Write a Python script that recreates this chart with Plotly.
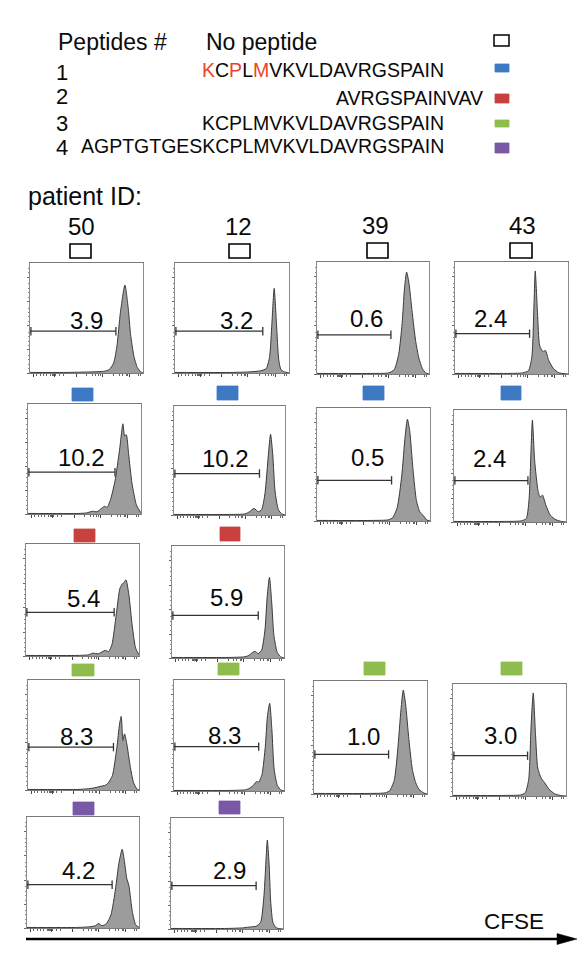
import plotly.graph_objects as go

W, H = 587, 957

# ------------------------------------------------------------------ data
PEPTIDE_NUMS = ["1", "2", "3", "4"]
PEPTIDE_SEQS = [
    "KCPLMVKVLDAVRGSPAIN",
    "AVRGSPAINVAV",
    "KCPLMVKVLDAVRGSPAIN",
    "AGPTGTGESKCPLMVKVLDAVRGSPAIN",
]
PEP1_RED_IDX = [0, 2, 4]          # K, P, M highlighted in peptide 1
PATIENTS = ["50", "12", "39", "43"]
CONDITIONS = ["No peptide", "1", "2", "3", "4"]

# % of divided cells (CFSE-low gate); None = not tested
PCT_NONE = [3.9, 3.2, 0.6, 2.4]
PCT_PEP1 = [10.2, 10.2, 0.5, 2.4]
PCT_PEP2 = [5.4, 5.9, None, None]
PCT_PEP3 = [8.3, 8.3, 1.0, 3.0]
PCT_PEP4 = [4.2, 2.9, None, None]

# gate end (relative CFSE) and gate level, per condition row
GATE_END_NONE = [0.76, 0.77, 0.66, 0.66]
GATE_END_PEP1 = [0.77, 0.77, 0.66, 0.66]
GATE_END_PEP2 = [0.78, 0.77, None, None]
GATE_END_PEP3 = [0.77, 0.77, 0.66, 0.66]
GATE_END_PEP4 = [0.76, 0.76, None, None]
GATE_LVL_NONE = [0.38, 0.38, 0.35, 0.36]
GATE_LVL_PEP1 = [0.38, 0.38, 0.36, 0.37]
GATE_LVL_PEP2 = [0.39, 0.38, None, None]
GATE_LVL_PEP3 = [0.39, 0.40, 0.35, 0.36]
GATE_LVL_PEP4 = [0.39, 0.39, None, None]

# CFSE histograms (relative CFSE, relative count)
P50_NONE_X = [0, 0.30, 0.55, 0.65, 0.70, 0.74, 0.77, 0.80, 0.84, 0.87, 0.89, 0.92, 0.95, 0.98, 1.0]
P50_NONE_Y = [0.005, 0.005, 0.01, 0.015, 0.03, 0.09, 0.25, 0.55, 0.80, 0.58, 0.35, 0.15, 0.05, 0.01, 0.0]
P12_NONE_X = [0, 0.5, 0.65, 0.75, 0.80, 0.83, 0.85, 0.87, 0.89, 0.91, 0.93, 0.96, 1.0]
P12_NONE_Y = [0.005, 0.005, 0.01, 0.02, 0.04, 0.15, 0.45, 0.77, 0.45, 0.12, 0.03, 0.01, 0.0]
P39_NONE_X = [0, 0.5, 0.64, 0.69, 0.73, 0.76, 0.78, 0.80, 0.82, 0.85, 0.88, 0.91, 0.94, 0.97, 1.0]
P39_NONE_Y = [0.005, 0.005, 0.01, 0.04, 0.18, 0.45, 0.75, 0.91, 0.82, 0.55, 0.30, 0.14, 0.05, 0.01, 0.0]
P43_NONE_X = [0, 0.45, 0.60, 0.65, 0.68, 0.70, 0.71, 0.73, 0.75, 0.78, 0.80, 0.83, 0.87, 0.92, 1.0]
P43_NONE_Y = [0.005, 0.005, 0.01, 0.03, 0.15, 0.65, 0.92, 0.55, 0.25, 0.20, 0.21, 0.12, 0.05, 0.01, 0.0]

P50_PEP1_X = [0, 0.45, 0.52, 0.57, 0.61, 0.65, 0.68, 0.70, 0.73, 0.77, 0.81, 0.84, 0.855, 0.87, 0.89, 0.92, 0.96, 1.0]
P50_PEP1_Y = [0.005, 0.005, 0.01, 0.025, 0.02, 0.05, 0.07, 0.06, 0.13, 0.30, 0.58, 0.82, 0.71, 0.72, 0.55, 0.28, 0.08, 0.01]
P12_PEP1_X = [0, 0.5, 0.64, 0.68, 0.72, 0.76, 0.79, 0.82, 0.85, 0.87, 0.89, 0.91, 0.94, 0.97, 1.0]
P12_PEP1_Y = [0.005, 0.005, 0.01, 0.03, 0.06, 0.03, 0.05, 0.20, 0.55, 0.74, 0.55, 0.22, 0.05, 0.01, 0.0]
P39_PEP1_X = [0, 0.5, 0.63, 0.67, 0.71, 0.75, 0.78, 0.80, 0.82, 0.85, 0.88, 0.91, 0.94, 0.97, 1.0]
P39_PEP1_Y = [0.005, 0.005, 0.01, 0.03, 0.12, 0.40, 0.75, 0.90, 0.80, 0.45, 0.18, 0.08, 0.05, 0.01, 0.0]
P43_PEP1_X = [0, 0.45, 0.60, 0.645, 0.67, 0.69, 0.70, 0.72, 0.75, 0.77, 0.79, 0.82, 0.86, 0.91, 0.96, 1.0]
P43_PEP1_Y = [0.005, 0.005, 0.01, 0.03, 0.20, 0.70, 0.91, 0.55, 0.28, 0.22, 0.24, 0.15, 0.06, 0.02, 0.005, 0.0]

P50_PEP2_X = [0, 0.45, 0.55, 0.59, 0.64, 0.70, 0.73, 0.76, 0.80, 0.83, 0.85, 0.87, 0.885, 0.91, 0.94, 0.97, 1.0]
P50_PEP2_Y = [0.005, 0.005, 0.01, 0.025, 0.02, 0.05, 0.04, 0.10, 0.38, 0.60, 0.64, 0.66, 0.68, 0.55, 0.27, 0.07, 0.01]
P12_PEP2_X = [0, 0.5, 0.64, 0.68, 0.72, 0.74, 0.77, 0.80, 0.83, 0.85, 0.87, 0.89, 0.91, 0.94, 0.97, 1.0]
P12_PEP2_Y = [0.005, 0.005, 0.01, 0.02, 0.05, 0.06, 0.04, 0.07, 0.25, 0.55, 0.72, 0.50, 0.20, 0.05, 0.01, 0.0]

P50_PEP3_X = [0, 0.45, 0.53, 0.60, 0.66, 0.69, 0.72, 0.76, 0.80, 0.825, 0.84, 0.855, 0.87, 0.89, 0.92, 0.95, 0.98, 1.0]
P50_PEP3_Y = [0.005, 0.005, 0.01, 0.02, 0.035, 0.04, 0.06, 0.13, 0.38, 0.60, 0.67, 0.45, 0.51, 0.42, 0.22, 0.07, 0.01, 0.0]
P12_PEP3_X = [0, 0.5, 0.64, 0.68, 0.72, 0.75, 0.77, 0.80, 0.83, 0.85, 0.87, 0.89, 0.91, 0.94, 0.97, 1.0]
P12_PEP3_Y = [0.005, 0.005, 0.01, 0.02, 0.05, 0.085, 0.08, 0.15, 0.40, 0.68, 0.79, 0.55, 0.20, 0.05, 0.01, 0.0]
P39_PEP3_X = [0, 0.5, 0.63, 0.67, 0.71, 0.74, 0.77, 0.79, 0.81, 0.84, 0.87, 0.90, 0.93, 0.97, 1.0]
P39_PEP3_Y = [0.005, 0.005, 0.01, 0.03, 0.12, 0.38, 0.75, 0.92, 0.80, 0.48, 0.22, 0.10, 0.04, 0.01, 0.0]
P43_PEP3_X = [0, 0.45, 0.60, 0.64, 0.67, 0.69, 0.71, 0.73, 0.75, 0.78, 0.81, 0.85, 0.90, 0.95, 1.0]
P43_PEP3_Y = [0.005, 0.005, 0.01, 0.03, 0.15, 0.60, 0.92, 0.55, 0.25, 0.16, 0.12, 0.06, 0.02, 0.005, 0.0]

P50_PEP4_X = [0, 0.45, 0.55, 0.61, 0.64, 0.67, 0.71, 0.75, 0.79, 0.82, 0.85, 0.87, 0.89, 0.91, 0.94, 0.97, 1.0]
P50_PEP4_Y = [0.005, 0.005, 0.01, 0.02, 0.04, 0.02, 0.04, 0.12, 0.35, 0.58, 0.71, 0.60, 0.45, 0.38, 0.15, 0.03, 0.005]
P12_PEP4_X = [0, 0.5, 0.64, 0.68, 0.72, 0.76, 0.80, 0.83, 0.85, 0.86, 0.875, 0.89, 0.91, 0.94, 1.0]
P12_PEP4_Y = [0.005, 0.005, 0.01, 0.015, 0.02, 0.025, 0.06, 0.30, 0.65, 0.80, 0.60, 0.25, 0.06, 0.01, 0.0]

# ------------------------------------------------------------------ layout config (pixels)
FONT = "Liberation Sans, Arial, Helvetica, sans-serif"
TXT = "#0a0a0a"
COND_COLORS = [None, "#3d78c3", "#c8413f", "#8fbd4d", "#7a58a8"]

PANEL_BOX = {  # (row, col): left, top, right, bottom
    (0, 0): (22, 255, 135, 365), (0, 1): (167, 255, 281, 365),
    (0, 2): (309, 254, 421, 366), (0, 3): (447, 254, 560, 366),
    (1, 0): (20, 396, 133, 506), (1, 1): (166, 398, 277, 507),
    (1, 2): (309, 400, 422, 513), (1, 3): (446, 402, 558, 514),
    (2, 0): (18, 536, 131, 648), (2, 1): (164, 538, 276, 650),
    (3, 0): (20, 672, 131, 782), (3, 1): (166, 672, 276, 783),
    (3, 2): (306, 673, 419, 786), (3, 3): (445, 676, 558, 788),
    (4, 0): (19, 809, 131, 920), (4, 1): (163, 810, 275, 921),
}
MARK_BOX = {
    (0, 0): (62, 236, 83, 250), (0, 1): (221, 236, 242, 250),
    (0, 2): (359, 235, 380, 250), (0, 3): (502, 235, 524, 250),
    (1, 0): (64, 380, 85, 393), (1, 1): (209, 378, 230, 392),
    (1, 2): (355, 378, 376, 392), (1, 3): (493, 378, 513, 392),
    (2, 0): (66, 521, 87, 534), (2, 1): (212, 519, 232, 533),
    (3, 0): (64, 656, 86, 668), (3, 1): (210, 655, 231, 667),
    (3, 2): (356, 654, 377, 667), (3, 3): (493, 654, 514, 667),
    (4, 0): (65, 794, 86, 807), (4, 1): (211, 793, 232, 806),
}
LABEL_POS = {
    (0, 0): (0.50, 0.48), (0, 1): (0.54, 0.48), (0, 2): (0.44, 0.50), (0, 3): (0.31, 0.50),
    (1, 0): (0.47, 0.51), (1, 1): (0.46, 0.52), (1, 2): (0.45, 0.56), (1, 3): (0.32, 0.57),
    (2, 0): (0.51, 0.51), (2, 1): (0.49, 0.54),
    (3, 0): (0.44, 0.49), (3, 1): (0.46, 0.50), (3, 2): (0.44, 0.51), (3, 3): (0.42, 0.54),
    (4, 0): (0.46, 0.52), (4, 1): (0.52, 0.53),
}
COL_LABEL_XY = [(74, 218), (231, 218), (367, 217), (514, 217)]


def fx(px):
    return px / W


def fy(py):
    return 1 - py / H


PCT = [PCT_NONE, PCT_PEP1, PCT_PEP2, PCT_PEP3, PCT_PEP4]
GATE_END = [GATE_END_NONE, GATE_END_PEP1, GATE_END_PEP2, GATE_END_PEP3, GATE_END_PEP4]
GATE_LVL = [GATE_LVL_NONE, GATE_LVL_PEP1, GATE_LVL_PEP2, GATE_LVL_PEP3, GATE_LVL_PEP4]
CURVES = {
    (0, 0): (P50_NONE_X, P50_NONE_Y), (0, 1): (P12_NONE_X, P12_NONE_Y),
    (0, 2): (P39_NONE_X, P39_NONE_Y), (0, 3): (P43_NONE_X, P43_NONE_Y),
    (1, 0): (P50_PEP1_X, P50_PEP1_Y), (1, 1): (P12_PEP1_X, P12_PEP1_Y),
    (1, 2): (P39_PEP1_X, P39_PEP1_Y), (1, 3): (P43_PEP1_X, P43_PEP1_Y),
    (2, 0): (P50_PEP2_X, P50_PEP2_Y), (2, 1): (P12_PEP2_X, P12_PEP2_Y),
    (3, 0): (P50_PEP3_X, P50_PEP3_Y), (3, 1): (P12_PEP3_X, P12_PEP3_Y),
    (3, 2): (P39_PEP3_X, P39_PEP3_Y), (3, 3): (P43_PEP3_X, P43_PEP3_Y),
    (4, 0): (P50_PEP4_X, P50_PEP4_Y), (4, 1): (P12_PEP4_X, P12_PEP4_Y),
}

fig = go.Figure()
layout_axes = {}
annotations = []
shapes = []

X_TICKS = [0.03, 0.22, 0.41, 0.64, 0.88]
X_MINOR = [0.06, 0.09, 0.12, 0.15, 0.18, 0.195, 0.205, 0.21, 0.215, 0.23, 0.26, 0.30,
           0.50, 0.55, 0.58, 0.61, 0.62, 0.74, 0.79, 0.82, 0.85, 0.86, 0.96, 0.98]
Y_TICKS = [0.0, 0.21, 0.43, 0.65, 0.87]
Y_MINOR = [0.04, 0.08, 0.12, 0.16, 0.25, 0.29, 0.33, 0.37, 0.47, 0.51, 0.55, 0.59,
           0.69, 0.73, 0.77, 0.81, 0.91, 0.95]

n = 0
for r in range(5):
    for c in range(4):
        if PCT[r][c] is None:
            continue
        n += 1
        xa = "x" if n == 1 else f"x{n}"
        ya = "y" if n == 1 else f"y{n}"
        L, T, R, B = PANEL_BOX[(r, c)]
        cx, cy = CURVES[(r, c)]
        fig.add_trace(go.Scatter(
            x=cx, y=cy, mode="lines", xaxis=xa, yaxis=ya,
            line=dict(color="#3a3a3a", width=1, shape="spline", smoothing=0.6),
            fill="tozeroy", fillcolor="#9c9c9c", showlegend=False, hoverinfo="skip"))
        g, lv = GATE_END[r][c], GATE_LVL[r][c]
        fig.add_trace(go.Scatter(
            x=[0, g], y=[lv, lv], mode="lines", xaxis=xa, yaxis=ya,
            line=dict(color="#333333", width=1.3), showlegend=False, hoverinfo="skip"))
        fig.add_trace(go.Scatter(
            x=[0.008, g], y=[lv, lv], mode="markers", xaxis=xa, yaxis=ya,
            marker=dict(symbol="line-ns", size=6, line=dict(width=1.3, color="#333333")),
            showlegend=False, hoverinfo="skip"))
        lx, ly = LABEL_POS[(r, c)]
        annotations.append(dict(
            x=lx, y=ly, xref=xa, yref=ya, text=f"{PCT[r][c]:.1f}", showarrow=False,
            xanchor="center", yanchor="middle", font=dict(family=FONT, size=24, color=TXT)))
        axkey = "xaxis" if n == 1 else f"xaxis{n}"
        aykey = "yaxis" if n == 1 else f"yaxis{n}"
        layout_axes[axkey] = dict(
            domain=[fx(L), fx(R)], range=[0, 1], anchor=ya, showgrid=False, zeroline=False,
            showline=True, mirror=True, linecolor="#7a7a7a", linewidth=1,
            ticks="outside", ticklen=3, tickwidth=1, tickcolor="#444", tickvals=X_TICKS,
            showticklabels=False, fixedrange=True,
            minor=dict(ticks="outside", ticklen=1.5, tickwidth=0.8, tickcolor="#666", tickvals=X_MINOR))
        layout_axes[aykey] = dict(
            domain=[fy(B), fy(T)], range=[0, 1], anchor=xa, showgrid=False, zeroline=False,
            showline=True, mirror=True, linecolor="#8a8a8a", linewidth=1,
            ticks="outside", ticklen=2.5, tickwidth=0.8, tickcolor="#666", tickvals=Y_TICKS,
            showticklabels=False, fixedrange=True,
            minor=dict(ticks="outside", ticklen=1.2, tickwidth=0.6, tickcolor="#888", tickvals=Y_MINOR))
        # condition marker above panel
        mL, mT, mR, mB = MARK_BOX[(r, c)]
        colr = COND_COLORS[r]
        shapes.append(dict(
            type="rect", xref="paper", yref="paper", x0=fx(mL), x1=fx(mR), y0=fy(mB), y1=fy(mT),
            fillcolor=colr if colr else "white",
            line=dict(color=colr if colr else "black", width=0.8 if colr else 1.6)))

# column labels (patient IDs)
for pid, (px, py) in zip(PATIENTS, COL_LABEL_XY):
    annotations.append(dict(x=fx(px), y=fy(py), xref="paper", yref="paper", text=pid,
                            showarrow=False, xanchor="center", yanchor="middle",
                            font=dict(family=FONT, size=24, color=TXT)))
annotations.append(dict(x=fx(18), y=fy(188), xref="paper", yref="paper", text="patient ID:",
                        showarrow=False, xanchor="left", yanchor="middle",
                        font=dict(family=FONT, size=25, color=TXT)))

# header legend
annotations.append(dict(x=fx(48), y=fy(34), xref="paper", yref="paper", text="Peptides #",
                        showarrow=False, xanchor="left", yanchor="middle",
                        font=dict(family=FONT, size=23, color=TXT)))
annotations.append(dict(x=fx(196), y=fy(34), xref="paper", yref="paper", text=CONDITIONS[0],
                        showarrow=False, xanchor="left", yanchor="middle",
                        font=dict(family=FONT, size=23, color=TXT)))
NUM_Y = [65, 89, 115, 139]
SEQ_Y = [62, 90, 115, 138]
SEQ_RIGHT = [438, 477, 438, 438]
for i, (num, seq) in enumerate(zip(PEPTIDE_NUMS, PEPTIDE_SEQS)):
    annotations.append(dict(x=fx(46), y=fy(NUM_Y[i]), xref="paper", yref="paper", text=num,
                            showarrow=False, xanchor="left", yanchor="middle",
                            font=dict(family=FONT, size=22, color=TXT)))
    if i == 0:
        txt = "".join(f"<span style='color:#e8452c'>{ch}</span>" if k in PEP1_RED_IDX else ch
                      for k, ch in enumerate(seq))
    else:
        txt = seq
    annotations.append(dict(x=fx(SEQ_RIGHT[i]), y=fy(SEQ_Y[i]), xref="paper", yref="paper", text=txt,
                            showarrow=False, xanchor="right", yanchor="middle",
                            font=dict(family=FONT, size=19.5, color=TXT)))
LEG_BOX = [(486, 27, 501, 38), (487, 56, 501, 64), (487, 86, 501, 95),
           (487, 112, 501, 119), (487, 135, 501, 145)]
for k, (a, b, cc, d) in enumerate(LEG_BOX):
    colr = COND_COLORS[k]
    shapes.append(dict(type="rect", xref="paper", yref="paper", x0=fx(a), x1=fx(cc), y0=fy(d), y1=fy(b),
                       fillcolor=colr if colr else "white",
                       line=dict(color=colr if colr else "black", width=0.8 if colr else 1.5)))

# CFSE axis arrow
shapes.append(dict(type="line", xref="paper", yref="paper", x0=fx(18), x1=fx(552), y0=fy(931), y1=fy(931),
                   line=dict(color="black", width=2.5)))
shapes.append(dict(type="path", xref="paper", yref="paper",
                   path=f"M {fx(549)},{fy(925.5)} L {fx(569)},{fy(931)} L {fx(549)},{fy(936.5)} Z",
                   fillcolor="black", line=dict(color="black", width=0.5)))
annotations.append(dict(x=fx(506), y=fy(913), xref="paper", yref="paper", text="CFSE",
                        showarrow=False, xanchor="center", yanchor="middle",
                        font=dict(family=FONT, size=22.5, color=TXT)))

fig.update_layout(
    width=W, height=H, margin=dict(l=0, r=0, t=0, b=0),
    paper_bgcolor="white", plot_bgcolor="white", showlegend=False,
    annotations=annotations, shapes=shapes, **layout_axes)

fig.write_html("out.html")
